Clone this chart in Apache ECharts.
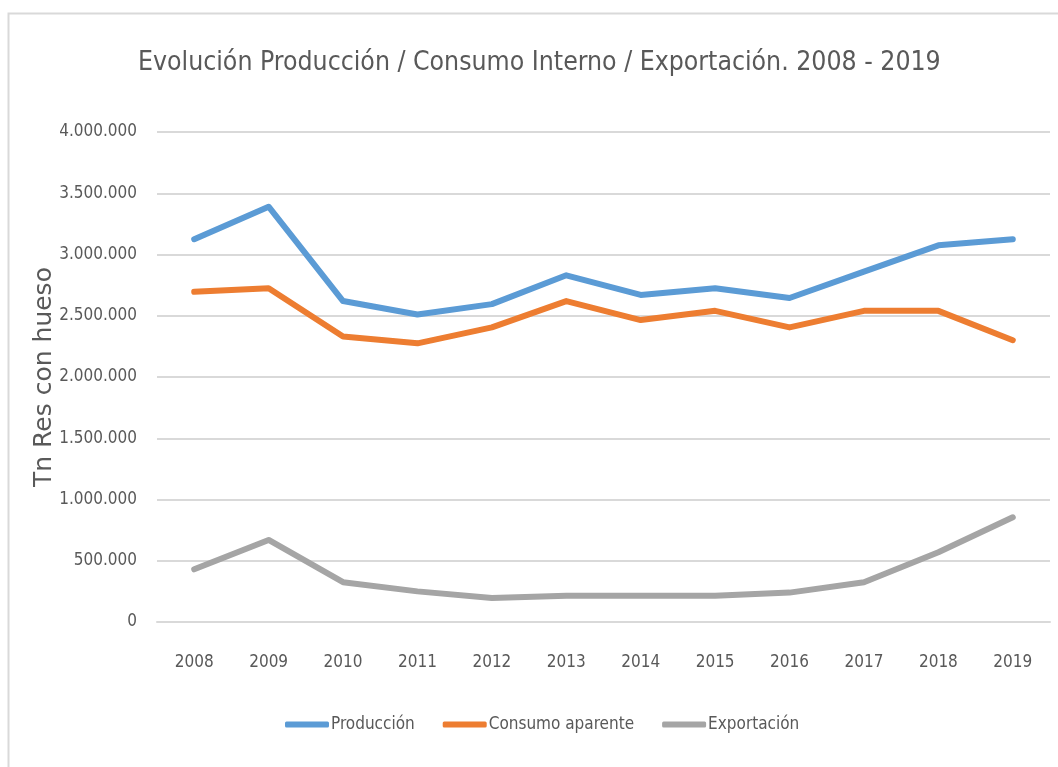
<!DOCTYPE html>
<html>
<head>
<meta charset="utf-8">
<script src="https://cdn.jsdelivr.net/npm/echarts@6/dist/echarts.min.js"></script>
<style>
html,body{margin:0;padding:0;background:#fff;}
#chart{width:1058px;height:767px;}
</style>
</head>
<body>
<div id="chart"></div>
<script>
const years = ['2008','2009','2010','2011','2012','2013','2014','2015','2016','2017','2018','2019'];
const produccion = [3125000, 3390000, 2620000, 2510000, 2595000, 2830000, 2670000, 2725000, 2645000, 2860000, 3075000, 3125000];
const consumo = [2695000, 2725000, 2330000, 2275000, 2405000, 2620000, 2465000, 2540000, 2405000, 2540000, 2540000, 2300000];
const exportacion = [430000, 670000, 325000, 250000, 195000, 215000, 215000, 215000, 240000, 325000, 570000, 855000];
const seriesNames = ['Producción', 'Consumo aparente', 'Exportación'];
const colors = ['#5B9BD5', '#ED7D31', '#A5A5A5'];

const narrow = "'Liberation Sans Narrow', 'DejaVu Sans Condensed', sans-serif";
const chart = echarts.init(document.getElementById('chart'));

function fmt(v){ return String(v).replace(/\B(?=(\d{3})+(?!\d))/g, '.'); }

chart.setOption({
  animation: false,
  color: colors,
  graphic: [{
    type: 'rect', left: 6, top: 11,
    shape: { width: 1060, height: 770 },
    style: { fill: 'none', stroke: '#D9D9D9', lineWidth: 2 }
  }],
  title: {
    text: 'Evolución Producción / Consumo Interno / Exportación. 2008 - 2019',
    left: 133, top: 45,
    textStyle: { fontFamily: narrow, fontSize: 26.4, fontWeight: 'normal', color: '#595959' }
  },
  legend: {
    top: 711, left: 280,
    itemWidth: 44, itemHeight: 6, itemGap: 28,
    icon: 'roundRect',
    textStyle: { fontFamily: narrow, fontSize: 17, color: '#595959', padding: [0, 0, 0, -3] },
    data: seriesNames
  },
  grid: { left: 157, right: 8, top: 132, bottom: 145 },
  xAxis: {
    type: 'category', data: years, boundaryGap: true,
    axisLine: { lineStyle: { color: '#D9D9D9', width: 2 } },
    axisTick: { show: false },
    axisLabel: { fontFamily: narrow, fontSize: 17, color: '#595959', margin: 32 }
  },
  yAxis: {
    type: 'value', min: 0, max: 4000000, interval: 500000,
    name: 'Tn Res con hueso', nameLocation: 'middle', nameGap: 100, nameRotate: 90,
    nameMoveOverlap: false,
    nameTextStyle: { fontFamily: "'DejaVu Sans', sans-serif", fontSize: 25, color: '#595959' },
    axisLine: { show: false },
    axisTick: { show: false },
    splitLine: { lineStyle: { color: '#D9D9D9', width: 2 } },
    axisLabel: { fontFamily: narrow, fontSize: 17, color: '#595959', margin: 20, formatter: fmt }
  },
  series: [
    { name: seriesNames[0], type: 'line', data: produccion, showSymbol: false, lineStyle: { width: 6, cap: 'round', join: 'round' } },
    { name: seriesNames[1], type: 'line', data: consumo, showSymbol: false, lineStyle: { width: 6, cap: 'round', join: 'round' } },
    { name: seriesNames[2], type: 'line', data: exportacion, showSymbol: false, lineStyle: { width: 6, cap: 'round', join: 'round' } }
  ]
});
</script>
</body>
</html>
